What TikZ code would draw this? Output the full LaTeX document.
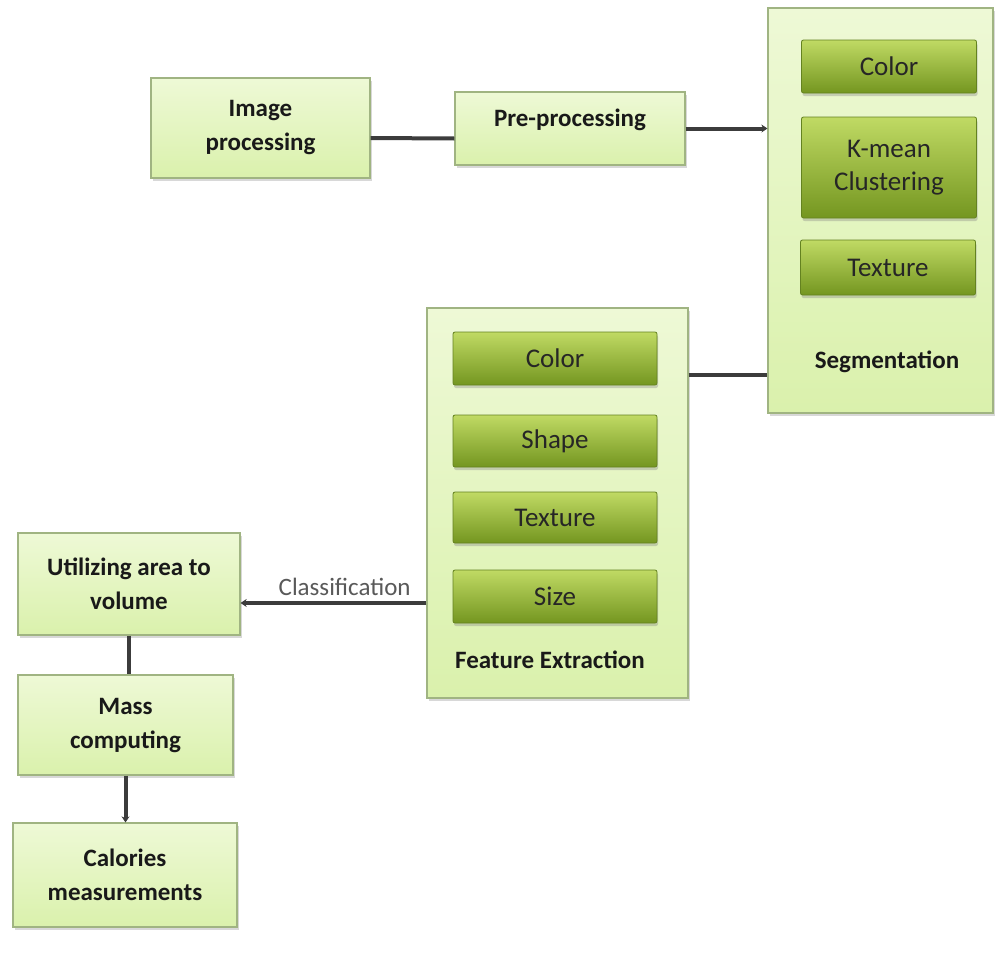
\documentclass[tikz,border=0pt]{standalone}
\usepackage{fontspec}
\setmainfont{Carlito}
\usetikzlibrary{arrows.meta,shadows,positioning}

\definecolor{paleTop}{RGB}{238,249,214}
\definecolor{paleBot}{RGB}{218,241,172}
\definecolor{paleLine}{RGB}{160,180,130}
\definecolor{btnTop}{RGB}{192,218,100}
\definecolor{btnMid}{RGB}{152,188,56}
\definecolor{btnBot}{RGB}{116,150,32}
\definecolor{btnLine}{RGB}{100,130,32}
\definecolor{wire}{RGB}{60,60,60}

\begin{document}
\begin{tikzpicture}[x=1pt, y=-1pt,
    stage/.style={rectangle, draw=paleLine, line width=1.2pt, top color=paleTop, bottom color=paleBot,
        drop shadow={shadow xshift=2pt, shadow yshift=-3pt, opacity=0.3},
        align=center, text=black!90, font=\bfseries\fontsize{25}{34}\selectfont},
    button/.style={rectangle, rounded corners=2pt, draw=btnLine, line width=0.8pt,
        top color=btnTop, middle color=btnMid, bottom color=btnBot,
        drop shadow={shadow xshift=1pt, shadow yshift=-3pt, opacity=0.35},
        minimum width=175pt, align=center, text=black!85, font=\fontsize{27}{33}\selectfont},
    caption/.style={text=black!90, font=\bfseries\fontsize{25}{30}\selectfont},
    wire/.style={draw=wire, line width=4pt},
    tip/.style={-{Stealth[length=6pt,width=8pt]}}
]
\fill[white] (0,0) rectangle (995,964);
\useasboundingbox (0,0) rectangle (995,964);

% top row
\node[stage, minimum width=219pt, minimum height=100pt] (imgp) at (260.5,128) {Image\\processing};
\node[stage, minimum width=230pt, minimum height=73pt, text height=18pt, text depth=22pt] (prep) at (570,128.5) {Pre-processing};

% segmentation group
\node[stage, minimum width=225pt, minimum height=405pt] (seg) at (880.5,210.5) {};
\node[button, minimum height=53pt] (segcol) at (889,66.5) {Color};
\node[button, minimum height=101pt] (segkm) at (889,167.5) {K-mean\\Clustering};
\node[button, minimum height=55pt] (segtex) at (888,267.5) {Texture};
\node[caption] (seglbl) at (887,362) {Segmentation};

% feature extraction group
\node[stage, minimum width=261pt, minimum height=390pt] (feat) at (557.5,503) {};
\node[button, minimum width=204pt, minimum height=53pt] (featcol) at (555,358.5) {Color};
\node[button, minimum width=204pt, minimum height=52pt] (featshp) at (555,441) {Shape};
\node[button, minimum width=204pt, minimum height=51pt] (feattex) at (555,517.5) {Texture};
\node[button, minimum width=204pt, minimum height=53pt] (featsiz) at (555,596.5) {Size};
\node[caption] (featlbl) at (550,660) {Feature Extraction};

% left column
\node[stage, minimum width=222pt, minimum height=102pt] (util) at (129,584) {Utilizing area to\\volume};
\node[stage, minimum width=215pt, minimum height=100pt] (mass) at (125.5,725) {Mass\\computing};
\node[stage, minimum width=224pt, minimum height=104pt] (cal) at (125,875) {Calories\\measurements};

% connectors
\draw[wire] ([yshift=-10pt]imgp.east) -- ([yshift=-10pt]prep.west);
\draw[wire, tip] (prep.east) -- (prep.east -| seg.west);
\draw[wire] (feat.east |- 0,375) -- (seg.west |- 0,375);
\draw[wire, tip] (feat.west |- 0,603) -- (util.east |- 0,603)
    node[pos=0.44, above=2pt, text=black!65, font=\fontsize{25}{30}\selectfont] (clslbl) {Classification};
\draw[wire] (util.south) -- (util.south |- mass.north);
\draw[wire, tip] (mass.south) -- (mass.south |- cal.north);
\end{tikzpicture}
\end{document}
